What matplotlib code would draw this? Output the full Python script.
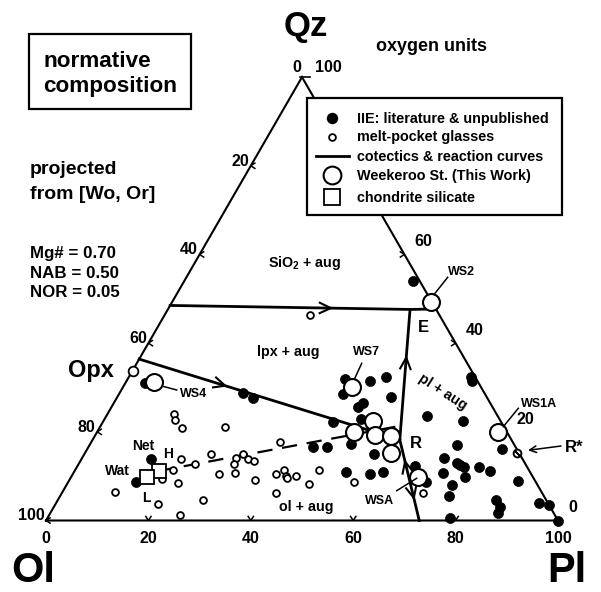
import numpy as np
import matplotlib
matplotlib.use("Agg")
import matplotlib.pyplot as plt
from matplotlib import font_manager as fm
from matplotlib.patches import Rectangle

# ---------------- data (ternary, % Pl and % Qz; Ol = 100 - Pl - Qz) ----------------
iie_pl = [44.6, 3.8, 24.1, 26.6, 44.85, 43.8, 46.5, 50.9, 56.6, 53.1, 58.05, 60.3,
          42.5, 43.7, 48.15, 48.7, 50.0, 53.35, 47.55, 50.25, 65.95, 69.8,
          66.9, 67.55, 62.6, 70.15, 71.8, 70.7, 73.7, 74.65, 75.65, 72.2, 78.55, 81.1,
          76.85, 75.2, 76.05, 80.95, 87.7, 85.6, 87.15, 87.5, 94.2, 96.5, 100.0, 78.65,
          13.65, 13.3]
iie_qz = [54.1, 31.1, 28.8, 27.7, 22.3, 16.6, 16.6, 17.2, 15.0, 11.0, 10.5, 11.0,
          31.8, 28.5, 25.7, 26.6, 23.0, 27.9, 31.5, 32.3, 12.3, 8.75,
          32.4, 31.5, 23.6, 22.5, 17.0, 14.0, 13.0, 12.5, 12.1, 10.8, 12.1, 11.2,
          9.9, 8.0, 5.5, 16.1, 9.0, 4.6, 3.1, 1.6, 4.0, 3.5, 0.0, 0.5,
          13.9, 8.75]

glass_pl = [28.45, 13.0, 13.85, 16.1, 24.35, 36.8, 19.5, 24.65, 22.75, 30.1, 31.05, 32.6,
            34.0, 30.45, 19.2, 28.6, 31.6, 36.35, 39.65, 40.65, 41.85, 42.25, 43.85, 47.6,
            47.25, 41.85, 28.3, 55.9, 70.6, 21.6, 17.95, 10.25, 20.05, 25.6]
glass_qz = [46.3, 24.0, 22.7, 20.8, 21.1, 17.8, 13.8, 15.1, 12.7, 14.0, 14.9, 13.8,
            13.4, 12.7, 11.4, 10.4, 10.6, 9.1, 10.5, 11.5, 10.1, 9.5, 10.1, 11.4,
            8.3, 6.1, 4.6, 8.6, 6.2, 8.4, 9.3, 6.5, 3.7, 1.2]

ws_names = ["WS2", "WS7", "WS4", "", "", "", "", "", "WSA", "WS1A"]
ws_pl = [50.55, 44.6, 5.45, 52.7, 50.25, 54.65, 57.75, 59.65, 67.75, 78.2]
ws_qz = [49.3, 30.2, 31.3, 22.4, 19.9, 19.3, 19.1, 15.3, 9.9, 20.0]

chond_names = ["H", "L"]
chond_pl = [16.5, 14.85]
chond_qz = [11.2, 9.7]

opx_pl, opx_qz = 0.0, 33.8
rstar_pl, rstar_qz = 84.3, 15.2

# cotectics & reaction curves (Pl, Qz)
E_pt = (47.3, 47.6)
R_pt = (60.0, 18.2)
qz_curve_pl = [0.0, E_pt[0], 52.3]
qz_curve_qz = [48.5, E_pt[1], 47.7]
er_curve_pl = [E_pt[0], R_pt[0], 72.9]
er_curve_qz = [E_pt[1], R_pt[1], 0.0]
opx_curve_pl = [0.0, R_pt[0]]
opx_curve_qz = [36.4, R_pt[1]]
dash_curve_pl = [16.5, 57.9]
dash_curve_qz = [11.2, 21.2]

ticks = [0, 20, 40, 60, 80, 100]

# ---------------- helpers ----------------
S3 = np.sqrt(3) / 2


def tern(pl, qz):
    pl = np.asarray(pl, float)
    qz = np.asarray(qz, float)
    return pl + qz / 2.0, qz * S3


SC = 5.12   # px per unit
X0, Y0 = 46.0, 520.5


def P(px, py):
    return (px - X0) / SC, (Y0 - py) / SC


names = {f.name for f in fm.fontManager.ttflist}
FONT = "Liberation Sans" if "Liberation Sans" in names else "DejaVu Sans"
BIGFONT = "Liberation Sans Narrow" if "Liberation Sans Narrow" in names else FONT

plt.rcParams["font.family"] = [FONT, "DejaVu Sans"]
plt.rcParams["font.weight"] = "bold"
plt.rcParams["mathtext.fontset"] = "custom"
plt.rcParams["mathtext.rm"] = FONT + ":bold"
plt.rcParams["mathtext.bf"] = FONT + ":bold"
plt.rcParams["mathtext.it"] = FONT + ":bold"
plt.rcParams["lines.scale_dashes"] = False

fig = plt.figure(figsize=(6.01, 5.92), dpi=100)
ax = fig.add_axes([0, 0, 1, 1])
ax.set_xlim(-X0 / SC, (601 - X0) / SC)
ax.set_ylim((Y0 - 592) / SC, Y0 / SC)
ax.set_aspect("auto")
ax.axis("off")

K = "black"


def text_px(px, py, s, size, ha="left", va="baseline", **kw):
    x, y = P(px, py)
    ax.text(x, y, s, fontsize=size, ha=ha, va=va, color=K, fontweight="bold", **kw)


def chevron(x, y, ang, L, half, lw=1.1, z=3):
    a = np.radians(ang)
    h = np.radians(half)
    b1 = a + np.pi - h
    b2 = a + np.pi + h
    ax.plot([x + L * np.cos(b1), x, x + L * np.cos(b2)],
            [y + L * np.sin(b1), y, y + L * np.sin(b2)],
            color=K, lw=lw, solid_joinstyle="miter", zorder=z)


def arrow_on(p0, p1, t, L=2.4, half=25):
    x0, y0 = tern(*p0)
    x1, y1 = tern(*p1)
    x = x0 + t * (x1 - x0)
    y = y0 + t * (y1 - y0)
    ang = np.degrees(np.arctan2(y1 - y0, x1 - x0))
    chevron(x, y, ang, L, half, lw=1.5, z=3)


# ---------------- triangle ----------------
tx, ty = tern([0, 100, 0, 0], [0, 0, 100, 0])
ax.plot(tx, ty, color=K, lw=1.5, solid_joinstyle="miter", zorder=2)

# tick chevrons
for v in [20, 40, 60, 80]:
    x, y = tern(v, 0)
    chevron(x, y, -90, 0.95, 33)
for v in [0, 20, 40, 60, 80]:       # left edge (Ol axis), v = Qz
    x, y = tern(0, v)
    chevron(x, y, 180, 0.95, 33)
for v in [20, 40, 60]:              # right edge (Qz axis)
    x, y = tern(100 - v, v)
    chevron(x, y, 0, 0.95, 33)
ax.plot([-0.3 + 50, 1.6 + 50], [100 * S3, 100 * S3], color=K, lw=1.2, zorder=2)

# tick labels
for v in ticks:
    x, y = tern(v, 0)
    ax.text(x, P(0, 543)[1], str(v), fontsize=11.5, ha="center", va="baseline",
            fontweight="bold")
for v in [0, 20, 40, 60, 80]:
    x, y = tern(0, v)
    ax.text(x - 1.5 / SC, y, str(100 - v), fontsize=11.5, ha="right", va="baseline",
            fontweight="bold")
for v in [0, 20, 40, 60]:
    x, y = tern(100 - v, v)
    ax.text(x + 10 / SC, y + 8 / SC, str(v), fontsize=11.5, ha="left", va="baseline",
            fontweight="bold")
text_px(296.7, 71.7, "0", 11.5, ha="center")
text_px(328.3, 71.7, "100", 11.5, ha="center")

# ---------------- curves ----------------
cx, cy = tern(qz_curve_pl, qz_curve_qz)
ax.plot(cx, cy, color=K, lw=2.0, zorder=3)
cx, cy = tern(er_curve_pl, er_curve_qz)
ax.plot(cx, cy, color=K, lw=2.0, zorder=3)
cx, cy = tern(opx_curve_pl, opx_curve_qz)
ax.plot(cx, cy, color=K, lw=2.0, zorder=3)
cx, cy = tern(dash_curve_pl, dash_curve_qz)
ax.plot(cx, cy, color=K, lw=1.6, dashes=(11, 7), zorder=3)

arrow_on((qz_curve_pl[0], qz_curve_qz[0]), E_pt, 0.67)
arrow_on((opx_curve_pl[0], opx_curve_qz[0]), R_pt, 0.33)
arrow_on(R_pt, E_pt, 0.63)
arrow_on((er_curve_pl[2], er_curve_qz[2]), R_pt, 0.73)
arrow_on(R_pt, (er_curve_pl[2], er_curve_qz[2]), 0.72)

# ---------------- points ----------------
gx, gy = tern(glass_pl, glass_qz)
ax.plot(gx, gy, "o", ms=4.9, mfc="white", mec=K, mew=1.3, ls="none", zorder=4)
fx, fy = tern(iie_pl, iie_qz)
ax.plot(fx, fy, "o", ms=7.2, mfc=K, mec=K, mew=0.5, ls="none", zorder=5)
wx, wy = tern(ws_pl, ws_qz)
ax.plot(wx, wy, "o", ms=12.2, mfc="white", mec=K, mew=1.5, ls="none", zorder=6)
sx, sy = tern(chond_pl, chond_qz)
ax.plot(sx, sy, "s", ms=10.5, mfc="white", mec=K, mew=1.3, ls="none", zorder=6)
ox, oy = tern(opx_pl, opx_qz)
ax.plot(ox, oy, "o", ms=7.0, mfc="white", mec=K, mew=1.3, zorder=6)
rx, ry = tern(rstar_pl, rstar_qz)
ax.plot(rx, ry, "o", ms=5.6, mfc="white", mec=K, mew=1.4, zorder=6)
ax.plot(rx, ry, marker=(2, 2, 45), ms=4.2, mec=K, mew=1.3, zorder=7)

# ---------------- labels inside plot ----------------
text_px(304.5, 266.5, r"SiO$_2$ + aug", 10.3, ha="center")
text_px(256.7, 356, "lpx + aug", 10.3)
text_px(306.7, 510.5, "ol + aug", 10.3, ha="center")
x, y = P(442.5, 392.5)
ax.text(x, y, "pl + aug", fontsize=10.3, fontweight="bold", rotation=-33,
        rotation_mode="anchor", ha="center", va="center")
text_px(423.3, 332.3, "E", 12, ha="center")
text_px(416.3, 448.3, "R", 12, ha="center")
text_px(565, 452.5, "R*", 12)
ax.annotate("", xy=P(528, 450.3), xytext=P(561, 446),
            arrowprops=dict(arrowstyle="->", color=K, lw=1.1,
                            mutation_scale=12, shrinkA=0, shrinkB=0))
text_px(68.3, 376.7, "Opx", 17)

# WS labels with leaders
text_px(448.3, 275, "WS2", 9)
ax.plot(*zip(P(435, 293.3), P(447.7, 277.3)), color=K, lw=1.1, zorder=3)
text_px(353.3, 355, "WS7", 9)
ax.plot(*zip(P(361.7, 363.3), P(354.5, 379)), color=K, lw=1.1, zorder=3)
text_px(180, 396.7, "WS4", 9)
ax.plot(*zip(P(161.7, 386), P(176.7, 390)), color=K, lw=1.1, zorder=3)
text_px(520.7, 406.7, "WS1A", 9)
ax.plot(*zip(P(518.3, 408.3), P(503.3, 426.7)), color=K, lw=1.1, zorder=7)
text_px(365, 504, "WSA", 9)
ax.plot(*zip(P(396.7, 490.7), P(416.7, 478.3)), color=K, lw=1.1, zorder=7)

text_px(131.7, 450, "Net", 10)
text_px(162.7, 458.3, "H", 10)
text_px(105, 475, "Wat", 10)
text_px(141.7, 501.7, "L", 10)

# ---------------- outer annotations ----------------
x, y = P(306, 36)
ax.text(x, y, "Qz", fontsize=25, fontweight="bold", ha="center", va="baseline",
        family=[FONT])
x, y = P(33.5, 582.5)
ax.text(x, y, "Ol", fontsize=30, fontweight="bold", ha="center", va="baseline",
        family=[BIGFONT, FONT])
x, y = P(567, 582.5)
ax.text(x, y, "Pl", fontsize=30, fontweight="bold", ha="center", va="baseline",
        family=[BIGFONT, FONT])
text_px(432, 50.7, "oxygen units", 13, ha="center")

# normative composition box
x0b, y0b = P(29.3, 109)
x1b, y1b = P(191, 34.3)
ax.add_patch(Rectangle((x0b, y0b), x1b - x0b, y1b - y0b, fill=False, ec=K, lw=1.6,
                       zorder=8))
text_px(43.3, 66.7, "normative", 16.2)
text_px(43.3, 91.7, "composition", 16.2)

text_px(30, 174, "projected", 14)
text_px(30, 199, "from [Wo, Or]", 14)
text_px(30, 258, "Mg# = 0.70", 12.2)
text_px(30, 277.5, "NAB = 0.50", 12.2)
text_px(30, 297, "NOR = 0.05", 12.2)

# ---------------- legend (drawn by hand) ----------------
lx0, ly0 = P(306.7, 215)
lx1, ly1 = P(561.7, 98.3)
ax.add_patch(Rectangle((lx0, ly0), lx1 - lx0, ly1 - ly0, fc="white", ec=K, lw=1.6,
                       zorder=10))
mx = 332.3
ax.plot(*P(mx, 118.3), "o", ms=7.2, mfc=K, mec=K, zorder=11)
ax.plot(*P(mx, 136.7), "o", ms=4.9, mfc="white", mec=K, mew=1.3, zorder=11)
ax.plot(*zip(P(315.7, 156), P(349, 156)), color=K, lw=2.0, zorder=11)
ax.plot(*P(mx, 175), "o", ms=12.8, mfc="white", mec=K, mew=1.5, zorder=11)
ax.plot(*P(mx, 196.7), "s", ms=11.5, mfc="white", mec=K, mew=1.3, zorder=11)
leg_texts = ["IIE: literature & unpublished", "melt-pocket glasses",
             "cotectics & reaction curves", "Weekeroo St. (This Work)",
             "chondrite silicate"]
for s, b in zip(leg_texts, [123.3, 141.5, 160.7, 180, 201.5]):
    x, y = P(356.7, b)
    ax.text(x, y, s, fontsize=10.4, fontweight="bold", ha="left", va="baseline",
            zorder=12)

fig.savefig("out.png", dpi=100, facecolor="white")
